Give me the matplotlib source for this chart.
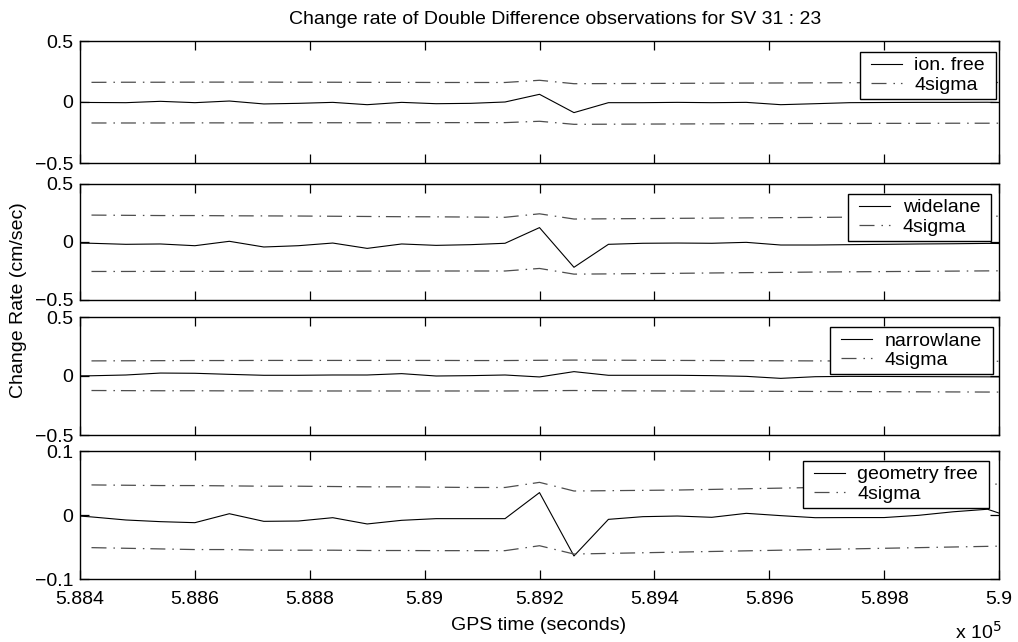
import matplotlib
matplotlib.use("Agg")
import matplotlib.pyplot as plt
from matplotlib.patches import Rectangle
from matplotlib.transforms import IdentityTransform
from matplotlib.ticker import FixedLocator, FuncFormatter

plt.rcParams["font.family"] = ["Liberation Sans", "DejaVu Sans"]
plt.rcParams["lines.scale_dashes"] = False

# GPS time of each epoch (seconds)
gps_time = [588360, 588420, 588480, 588540, 588600, 588660, 588720, 588780, 588840, 588900,
            588960, 589020, 589080, 589140, 589200, 589260, 589320, 589380, 589440, 589500,
            589560, 589620, 589680, 589740, 589800, 589860, 589920, 589980, 590040]
# the 4sigma bound starts one epoch later
sigma_time = gps_time[1:]

ion_free = [0.0, -0.004, -0.0055, 0.0055, -0.0055, 0.008, -0.016, -0.011, -0.003, -0.022,
            -0.003, -0.014, -0.011, 0.0, 0.063, -0.087, -0.0055, -0.0055, -0.003, -0.0055,
            -0.003, -0.022, -0.014, -0.0055, -0.004, -0.003, -0.003, -0.002, -0.008]
ion_free_up = [0.161, 0.162, 0.162, 0.163, 0.163, 0.163, 0.162, 0.162, 0.161, 0.161, 0.160, 0.160, 0.160,
               0.178, 0.150,
               0.151, 0.152, 0.153, 0.154, 0.155, 0.156, 0.157, 0.158, 0.158, 0.159, 0.159, 0.160, 0.160]
ion_free_lo = [-0.172, -0.172, -0.172, -0.171, -0.171, -0.171, -0.170, -0.170, -0.170, -0.170, -0.169, -0.169, -0.169,
               -0.158, -0.183,
               -0.182, -0.181, -0.180, -0.179, -0.178, -0.177, -0.176, -0.176, -0.175, -0.175, -0.174, -0.174, -0.173]

widelane = [-0.008, -0.011, -0.020, -0.017, -0.032, 0.006, -0.043, -0.032, -0.009, -0.055,
            -0.017, -0.029, -0.023, -0.011, 0.124, -0.218, -0.020, -0.011, -0.009, -0.011,
            -0.003, -0.026, -0.026, -0.023, -0.020, -0.017, -0.015, -0.012, -0.015]
widelane_up = [0.232, 0.230, 0.228, 0.228, 0.226, 0.225, 0.224, 0.222, 0.220, 0.218, 0.217, 0.215, 0.213,
               0.243, 0.198,
               0.200, 0.202, 0.204, 0.206, 0.208, 0.210, 0.212, 0.214, 0.216, 0.218, 0.220, 0.222, 0.224]
widelane_lo = [-0.254, -0.254, -0.253, -0.253, -0.253, -0.252, -0.252, -0.252, -0.251, -0.251, -0.250, -0.250, -0.250,
               -0.228, -0.277,
               -0.275, -0.272, -0.270, -0.267, -0.264, -0.262, -0.259, -0.257, -0.255, -0.253, -0.251, -0.249, -0.247]

narrowlane = [0.0, 0.002, 0.0085, 0.025, 0.023, 0.014, 0.006, 0.006, 0.0085, 0.0085,
              0.020, 0.0, 0.003, 0.0085, -0.008, 0.037, 0.006, 0.006, 0.006, 0.003,
              -0.003, -0.020, -0.006, -0.003, -0.004, -0.005, -0.006, -0.007, -0.008]
narrowlane_up = [0.128, 0.129, 0.130, 0.131, 0.131, 0.132, 0.132, 0.132, 0.132, 0.132, 0.132, 0.131, 0.131,
                 0.133, 0.135,
                 0.134, 0.133, 0.132, 0.131, 0.130, 0.129, 0.128, 0.127, 0.126, 0.126, 0.125, 0.125, 0.124]
narrowlane_lo = [-0.123, -0.124, -0.125, -0.125, -0.126, -0.126, -0.127, -0.127, -0.127, -0.127, -0.127, -0.127, -0.127,
                 -0.125, -0.123,
                 -0.125, -0.126, -0.127, -0.128, -0.129, -0.130, -0.131, -0.132, -0.133, -0.134, -0.135, -0.136, -0.137]

geo_free = [0.001, -0.003, -0.0078, -0.0104, -0.012, 0.002, -0.0099, -0.0094, -0.0042, -0.014,
            -0.0083, -0.0057, -0.0057, -0.0057, 0.035, -0.064, -0.0068, -0.0026, -0.0016, -0.0036,
            0.0026, -0.001, -0.0042, -0.004, -0.004, -0.0005, 0.005, 0.009, -0.009]
geo_free_up = [0.047, 0.0465, 0.046, 0.046, 0.0455, 0.045, 0.045, 0.0445, 0.044, 0.044, 0.0435, 0.043, 0.043,
               0.051, 0.0375,
               0.038, 0.0385, 0.039, 0.040, 0.041, 0.042, 0.043, 0.044, 0.045, 0.046, 0.047, 0.048, 0.049]
geo_free_lo = [-0.051, -0.052, -0.053, -0.054, -0.054, -0.055, -0.055, -0.055, -0.0555, -0.0555, -0.0557, -0.0557, -0.0557,
               -0.048, -0.061,
               -0.060, -0.059, -0.058, -0.057, -0.056, -0.055, -0.054, -0.053, -0.052, -0.051, -0.050, -0.049, -0.048]

x_ticks = [588400, 588600, 588800, 589000, 589200, 589400, 589600, 589800, 590000]

W, H = 1018, 642
FS = 14

# (series, upper, lower, label, ylim, yticks, top px, bottom px, legend anchor)
panels = [
    (ion_free, ion_free_up, ion_free_lo, "ion. free", 0.5, [-0.5, 0, 0.5], 41, 163, (0.990, 0.91)),
    (widelane, widelane_up, widelane_lo, "widelane", 0.5, [-0.5, 0, 0.5], 184, 300, (0.9848, 0.914)),
    (narrowlane, narrowlane_up, narrowlane_lo, "narrowlane", 0.5, [-0.5, 0, 0.5], 317, 435, (0.9869, 0.915)),
    (geo_free, geo_free_up, geo_free_lo, "geometry free", 0.1, [-0.1, 0, 0.1], 451, 579, (0.9826, 0.922)),
]

fig = plt.figure(figsize=(W / 100, H / 100), dpi=100)

dashdot = (10.8, 5.0, 1.1, 4.3)
legends = []

for i, (obs, up, lo, label, lim, yt, top, bot, anchor) in enumerate(panels):
    ax = fig.add_axes([80 / W, 1 - bot / H, 919 / W, (bot - top) / H])
    ax.plot(gps_time, obs, color="black", lw=0.8, label=label)
    ax.plot(sigma_time, up, color="0.3", lw=0.9, dashes=dashdot, label="4sigma")
    ax.plot(sigma_time, lo, color="0.3", lw=0.9, dashes=dashdot)
    ax.set_xlim(588400, 590000)
    ax.set_ylim(-lim, lim)
    ax.xaxis.set_major_locator(FixedLocator(x_ticks))
    ax.yaxis.set_major_locator(FixedLocator(yt))
    ax.yaxis.set_major_formatter(FuncFormatter(lambda v, p: f"{v:g}".replace("-", "\u2212")))
    if i == 3:
        ax.xaxis.set_major_formatter(FuncFormatter(lambda v, p: f"{v / 1e5:g}"))
    else:
        ax.set_xticklabels([])
    ax.tick_params(direction="in", length=6.5, width=0.9, top=True, right=True,
                   labelsize=FS, pad=5)
    ax.tick_params(axis="x", pad=8.5)
    for s in ax.spines.values():
        s.set_linewidth(1.0)
    leg = ax.legend(loc="upper right", bbox_to_anchor=anchor, borderaxespad=0,
                    fontsize=FS, frameon=True, fancybox=False, framealpha=1,
                    handlelength=1.6, handletextpad=0.65,
                    labelspacing=0.1, borderpad=0.25)
    leg.get_frame().set_visible(False)
    legends.append((ax, leg))

fig.text(555 / W, 1 - 20 / H, "Change rate of Double Difference observations for SV 31 : 23",
         ha="center", va="center", fontsize=FS)
fig.text(19 / W, 1 - 300 / H, "Change Rate (cm/sec)", rotation=90,
         ha="center", va="center", fontsize=FS)
fig.text(539 / W, 1 - 625 / H, "GPS time (seconds)", ha="center", va="center", fontsize=FS)
fig.text(955 / W, 1 - 639 / H, "x 10$^{5}$", ha="left", va="baseline", fontsize=FS)

# legend boxes with wider side padding (MATLAB style)
fig.canvas.draw()
for ax, leg in legends:
    bb = leg.get_window_extent()
    box = Rectangle((bb.x0 - 6, bb.y0), bb.width + 12, bb.height,
                    transform=IdentityTransform(), facecolor="white",
                    edgecolor="black", lw=1.0, zorder=4.5, clip_on=False)
    ax.add_artist(box)

fig.savefig("out.png", dpi=100)
